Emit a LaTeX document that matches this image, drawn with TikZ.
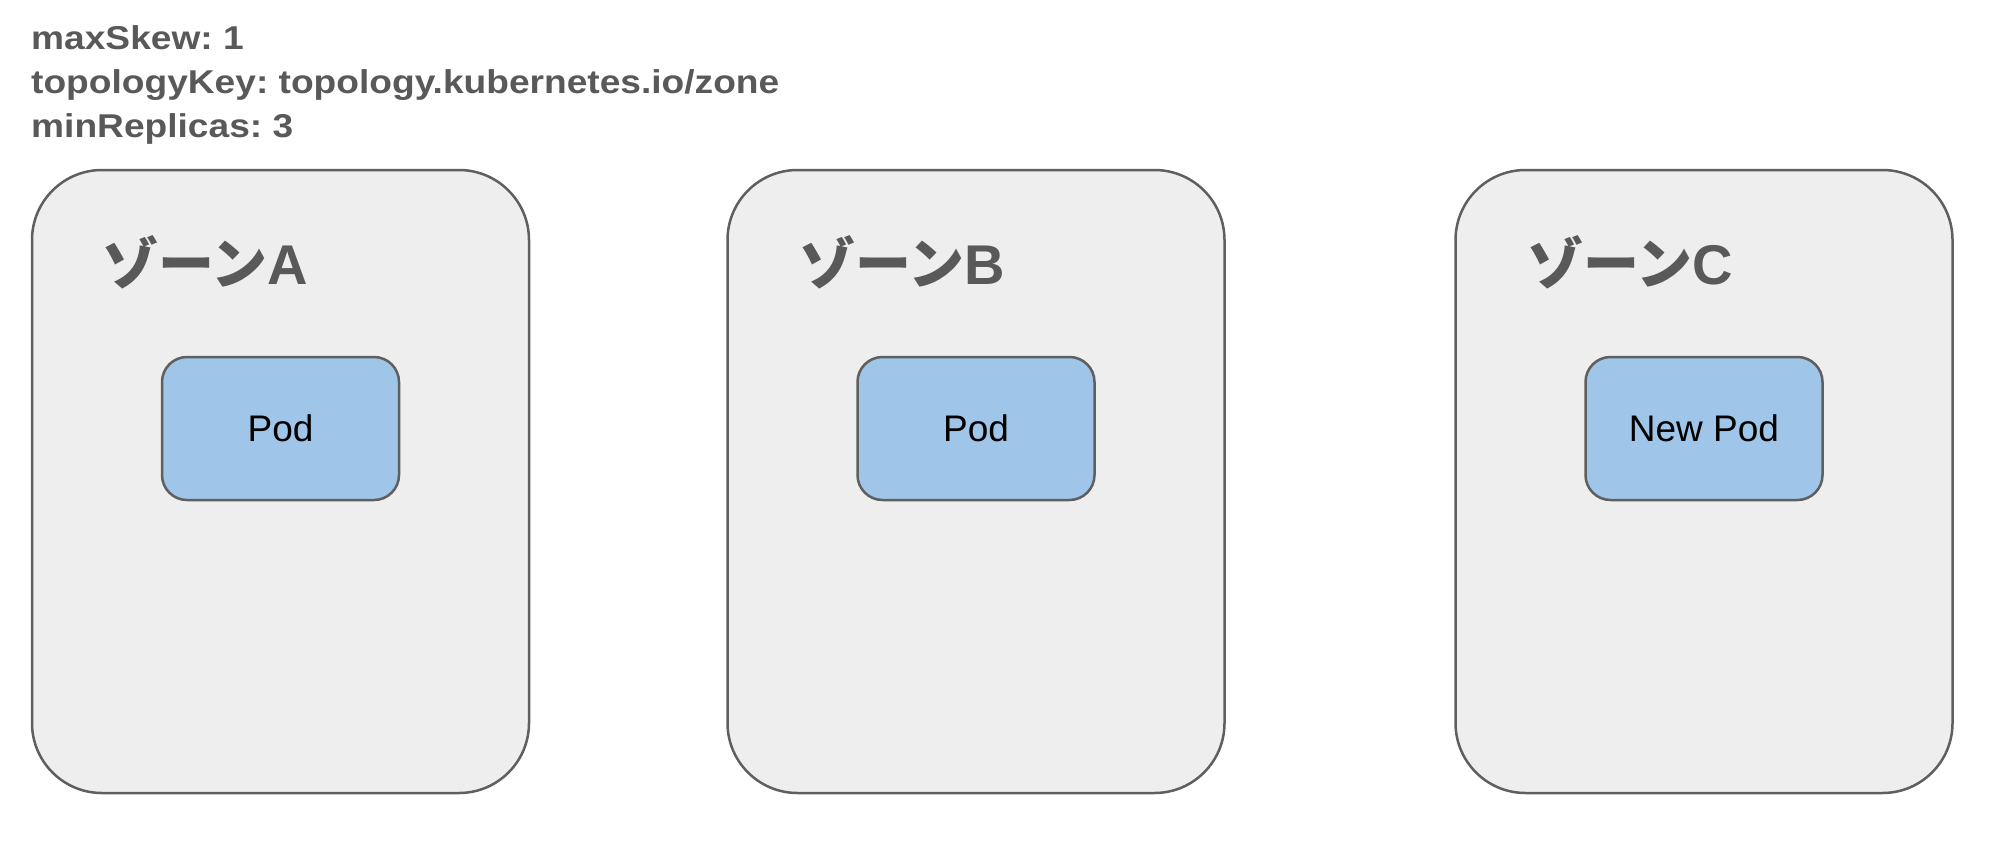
\documentclass[tikz,border=0pt]{standalone}
\usepackage{fontspec}
\setmainfont{Liberation Sans}
\newfontfamily\paramfont{Liberation Sans}[FakeStretch=1.125]
\newfontfamily\jpfont{Noto Sans CJK JP}
\usetikzlibrary{positioning}
\definecolor{linegray}{HTML}{5F5F5F}
\definecolor{textgray}{HTML}{595959}
\definecolor{zonegray}{HTML}{EEEEEE}
\definecolor{podblue}{HTML}{9FC5E8}
\frenchspacing
\tikzset{
    zone/.style={rectangle,draw=linegray,fill=zonegray,line width=2.5pt,rounded corners=70pt,
        minimum width=497pt,minimum height=623pt,inner sep=0pt},
    pod/.style={rectangle,draw=linegray,fill=podblue,line width=2.5pt,rounded corners=25pt,
        minimum width=237pt,minimum height=143pt,inner sep=0pt,font=\fontsize{37}{42}\selectfont},
    zonelabel/.style={anchor=base west,inner sep=0pt,text=textgray,font=\fontsize{56}{62}\selectfont\bfseries},
    param/.style={anchor=base west,inner sep=0pt,text=textgray,font=\paramfont\fontsize{33}{40}\selectfont\bfseries},
}

\begin{document}
\begin{tikzpicture}[x=1pt,y=-1pt]
		\useasboundingbox (0,0) rectangle (1999,857);

		\node[param] (skew) at (31,49) {maxSkew: 1};
		\node[param] (key) at (31,93) {topologyKey: topology.kubernetes.io/zone};
		\node[param] (min) at (31,137) {minReplicas: 3};

		\node[zone] (zoneA) at (280.5,481.5) {};
		\node[zone] (zoneB) at (976,481.5) {};
		\node[zone] (zoneC) at (1704,481.5) {};

		\node[zonelabel] (labelA) at (102,284) {{\jpfont ゾーン}A};
		\node[zonelabel] (labelB) at (799,284) {{\jpfont ゾーン}B};
		\node[zonelabel] (labelC) at (1527,284) {{\jpfont ゾーン}C};

		\node[pod] (podA) at (280.5,428.5) {Pod};
		\node[pod] (podB) at (976,428.5) {Pod};
		\node[pod] (podC) at (1704,428.5) {New Pod};
	\end{tikzpicture}
\end{document}
